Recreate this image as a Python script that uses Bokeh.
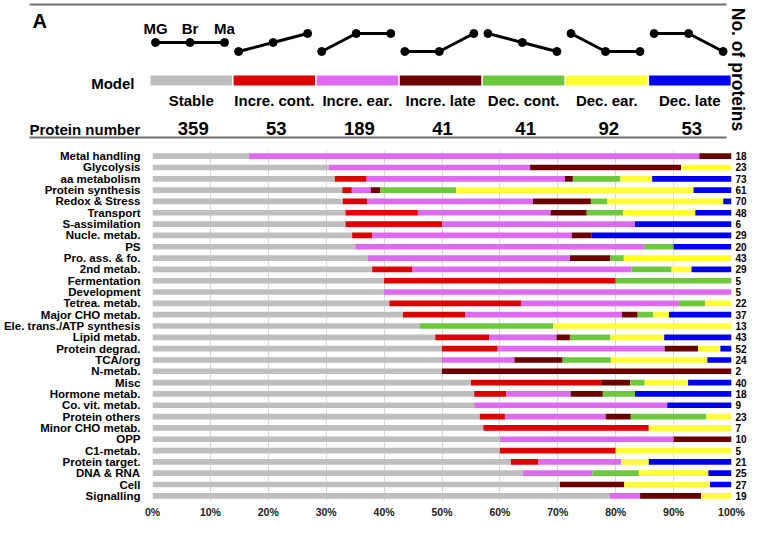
import math
from bokeh.plotting import figure
from bokeh.models import Range1d, FixedTicker, LinearAxis, Label, ColumnDataSource
from bokeh.layouts import column
from bokeh.core.properties import value
from bokeh.embed import file_html
from bokeh.resources import INLINE

FONT = "Liberation Sans"

# ---------------- data ----------------
models = ["Stable", "Incre. cont.", "Incre. ear.", "Incre. late",
          "Dec. cont.", "Dec. ear.", "Dec. late"]
model_colors = ["#BEBEBE", "#DD0000", "#DE6AF0", "#6B0000",
                "#6DC93B", "#FFFF33", "#0000F0"]
protein_number = [359, 53, 189, 41, 41, 92, 53]
# expression level at MG, Br, Ma (0 = low, 1 = mid, 2 = high)
time_points = ["MG", "Br", "Ma"]
profiles = [[1, 1, 1], [0, 1, 2], [0, 2, 2], [0, 0, 2],
            [2, 1, 0], [2, 0, 0], [2, 2, 0]]

categories = ["Metal handling", "Glycolysis", "aa metabolism", "Protein synthesis",
              "Redox & Stress", "Transport", "S-assimilation", "Nucle. metab.", "PS",
              "Pro. ass. & fo.", "2nd metab.", "Fermentation", "Development",
              "Tetrea. metab.", "Major CHO metab.", "Ele. trans./ATP synthesis",
              "Lipid metab.", "Protein degrad.", "TCA/org", "N-metab.", "Misc",
              "Hormone metab.", "Co. vit. metab.", "Protein others", "Minor CHO metab.",
              "OPP", "C1-metab.", "Protein target.", "DNA & RNA", "Cell", "Signalling"]
no_of_proteins = [18, 23, 73, 61, 70, 48, 6, 29, 20, 43, 29, 5, 5, 22, 37, 13,
                  43, 52, 24, 2, 40, 18, 9, 23, 7, 10, 5, 21, 25, 27, 19]

stable     = [3, 7, 23, 20, 23, 16, 2, 10, 7, 16, 11, 2, 2, 9, 16, 6, 21, 26, 12, 1, 22, 10, 5, 13, 4, 6, 3, 13, 16, 19, 15]
incre_cont = [0, 0, 4, 1, 3, 6, 1, 1, 0, 0, 2, 2, 0, 5, 4, 0, 4, 5, 0, 0, 9, 1, 0, 1, 2, 0, 1, 1, 0, 0, 0]
incre_ear  = [14, 8, 25, 2, 20, 11, 2, 10, 10, 15, 11, 0, 3, 6, 10, 0, 5, 15, 3, 0, 0, 2, 3, 4, 0, 3, 0, 3, 3, 0, 1]
incre_late = [1, 6, 1, 1, 7, 3, 0, 1, 0, 3, 0, 0, 0, 0, 1, 0, 1, 3, 2, 1, 2, 1, 0, 1, 0, 1, 0, 0, 0, 3, 2]
dec_cont   = [0, 0, 6, 8, 2, 3, 0, 0, 1, 1, 2, 1, 0, 1, 1, 3, 3, 0, 2, 0, 1, 1, 0, 3, 0, 0, 0, 0, 2, 0, 0]
dec_ear    = [0, 2, 4, 25, 14, 6, 0, 0, 0, 8, 1, 0, 0, 1, 1, 4, 4, 2, 4, 0, 3, 0, 0, 1, 1, 0, 1, 1, 3, 4, 1]
dec_late   = [0, 0, 10, 4, 1, 3, 1, 7, 2, 0, 2, 0, 0, 0, 4, 0, 5, 1, 1, 0, 3, 3, 1, 0, 0, 0, 0, 3, 1, 1, 0]

series = [stable, incre_cont, incre_ear, incre_late, dec_cont, dec_ear, dec_late]
x_ticks = list(range(0, 101, 10))

# ---------------- panel A ----------------
W = 749
HA = 140
HB = 380

def Y(v):
    return HA - v

pA = figure(width=W, height=HA, x_range=Range1d(0, W), y_range=Range1d(0, HA),
            x_axis_type=None, y_axis_type=None, toolbar_location=None,
            output_backend="svg", min_border=0, outline_line_color=None)
pA.grid.visible = False

slot_x0, slot_w, block_w = 150.0, 83.1, 81.5
icon_off = [5.0, 39.5, 74.0]
lvl_y = lambda lv: 51.0 - 9.0 * lv

# rules
pA.segment(x0=[29, 29], y0=[Y(4), Y(137)], x1=[726, 726], y1=[Y(4), Y(137)],
           line_color="#707070", line_width=2)

# model color blocks
lefts = [slot_x0 + i * slot_w for i in range(len(models))]
pA.quad(left=lefts, right=[l + block_w for l in lefts],
        top=[Y(75)] * len(models), bottom=[Y(85)] * len(models),
        fill_color=model_colors, line_color=None)

# icons
xs, ys, px, py = [], [], [], []
for i, prof in enumerate(profiles):
    xx = [lefts[i] + o for o in icon_off]
    yy = [Y(lvl_y(lv)) for lv in prof]
    xs.append(xx); ys.append(yy)
    px += xx; py += yy
pA.multi_line(xs=xs, ys=ys, line_color="black", line_width=3)
pA.scatter(x=px, y=py, size=8, color="black")

common = dict(text_font=value(FONT), text_font_style="bold", text_color="black",
              text_baseline="middle")
centers = [l + block_w / 2 for l in lefts]
pA.text(x=[lefts[0] + o for o in icon_off], y=[Y(28)] * 3, text=time_points,
        text_font_size="15px", text_align="center", **common)
pA.text(x=centers, y=[Y(100)] * len(models), text=models,
        text_font_size="15px", text_align="center", **common)
pA.text(x=[c + 2 for c in centers], y=[Y(128)] * len(models),
        text=[str(v) for v in protein_number],
        text_font_size="18.5px", text_align="center", **common)
pA.text(x=[134], y=[Y(83)], text=["Model"], text_font_size="15px",
        text_align="right", **common)
pA.text(x=[29], y=[Y(129)], text=["Protein number"], text_font_size="15px",
        text_align="left", **common)
pA.text(x=[32], y=[Y(20)], text=["A"], text_font_size="20px",
        text_align="left", **common)
pA.text(x=[737], y=[Y(69)], text=["No. of proteins"], text_font_size="17.5px",
        text_align="center", angle=-math.pi / 2, **common)

# ---------------- panel B ----------------
n = len(categories)
keys = ["s%d" % k for k in range(len(series))]
totals = [sum(col[r] for col in series) for r in range(n)]
data = {"y": list(range(n))}
for k, col in zip(keys, series):
    data[k] = [100.0 * col[r] / totals[r] for r in range(n)]
src = ColumnDataSource(data)

pB = figure(width=W, height=HB, x_range=Range1d(0, 100), y_range=Range1d(n - 0.5, -0.5),
            toolbar_location=None, output_backend="svg",
            min_border_left=152, min_border_right=15, min_border_top=10,
            min_border_bottom=17, outline_line_color=None)
pB.hbar_stack(keys, y="y", height=0.5, color=model_colors, source=src, line_color=None)

pB.ygrid.visible = False
pB.xgrid.ticker = FixedTicker(ticks=x_ticks)
pB.xgrid.grid_line_color = "#d9d9d9"
pB.xgrid.grid_line_width = 1

def style_axis(ax, size):
    ax.axis_line_color = None
    ax.major_tick_line_color = None
    ax.minor_tick_line_color = None
    ax.major_tick_out = 0
    ax.major_tick_in = 0
    ax.major_label_text_font = FONT
    ax.major_label_text_font_style = "bold"
    ax.major_label_text_font_size = size
    ax.major_label_text_color = "black"

xa = pB.xaxis[0]
xa.ticker = FixedTicker(ticks=x_ticks)
xa.major_label_overrides = {t: "%d%%" % t for t in x_ticks}
style_axis(xa, "10.5px")
xa.major_label_text_color = "#222222"
xa.major_label_standoff = 4

ya = pB.yaxis[0]
ya.ticker = FixedTicker(ticks=list(range(n)))
ya.major_label_overrides = {i: c for i, c in enumerate(categories)}
style_axis(ya, "11.5px")
ya.major_label_standoff = 12

ra = LinearAxis(ticker=FixedTicker(ticks=list(range(n))),
                major_label_overrides={i: str(v) for i, v in enumerate(no_of_proteins)})
style_axis(ra, "10px")
ra.major_label_standoff = 4
pB.add_layout(ra, "right")

pB.add_layout(Label(x=-20.45, y=-0.06, text="B", text_font=FONT, text_font_style="bold",
                    text_font_size="20px", text_align="left", text_baseline="middle",
                    text_color="black"))

try:
    pA.frame_align = False
    pB.frame_align = False
    root = column(pA, pB)
except AttributeError:
    root = [pA, pB]

open("out.html", "w").write(file_html(root, INLINE))
